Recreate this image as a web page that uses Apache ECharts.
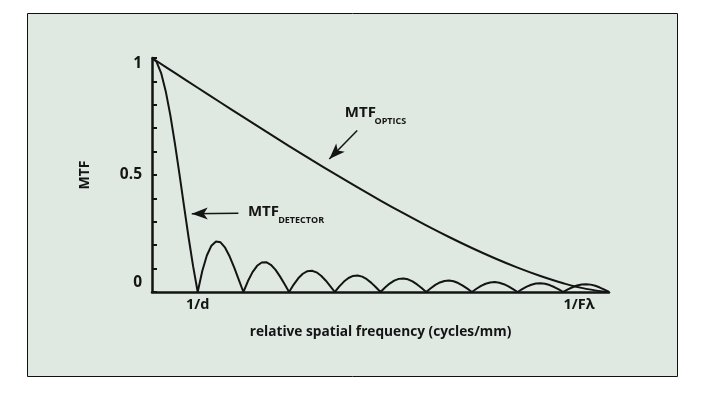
<!DOCTYPE html>
<html><head><meta charset="utf-8">
<script src="https://cdn.jsdelivr.net/npm/echarts@6/dist/echarts.min.js"></script>
<style>html,body{margin:0;padding:0;background:#fff}#c{width:707px;height:393px}</style>
</head><body><div id="c"></div>
<script>
// spatial frequency in units of 1/d (detector sampling step 0.1)
const detectorStep = 0.1;
const detectorMTF = [
  1, 0.9836, 0.9355, 0.8584, 0.7568, 0.6366, 0.5046, 0.3679, 0.2339, 0.1093, 0,
  0.0894, 0.1559, 0.1981, 0.2162, 0.2122, 0.1892, 0.1515, 0.1039, 0.0518, 0,
  0.0468, 0.0850, 0.1120, 0.1261, 0.1273, 0.1164, 0.0954, 0.0668, 0.0339, 0,
  0.0317, 0.0585, 0.0780, 0.0890, 0.0909, 0.0841, 0.0696, 0.0492, 0.0252, 0,
  0.0240, 0.0445, 0.0599, 0.0688, 0.0707, 0.0658, 0.0548, 0.0390, 0.0201, 0,
  0.0193, 0.0360, 0.0486, 0.0561, 0.0579, 0.0541, 0.0452, 0.0323, 0.0167, 0,
  0.0161, 0.0302, 0.0409, 0.0473, 0.0490, 0.0459, 0.0384, 0.0275, 0.0143, 0,
  0.0139, 0.0260, 0.0353, 0.0409, 0.0424, 0.0398, 0.0334, 0.0240, 0.0125, 0,
  0.0121, 0.0228, 0.0310, 0.0360, 0.0374, 0.0352, 0.0296, 0.0213, 0.0111, 0,
  0.0108, 0.0203, 0.0277, 0.0322, 0.0335, 0.0315, 0.0265, 0.0191, 0.0099, 0
];
const opticsStep = 0.5;
const opticsMTF = [
  1, 0.9364, 0.8729, 0.8097, 0.7471, 0.6850, 0.6238, 0.5636, 0.5046, 0.4470,
  0.3910, 0.3368, 0.2848, 0.2351, 0.1881, 0.1443, 0.1041, 0.0682, 0.0374, 0.0133, 0
];
const xTickLabels = [{ value: 1, text: '1/d' }, { value: 10, text: '1/F\u03bb' }];
const yTickLabels = [{ value: 0, text: '0' }, { value: 0.5, text: '0.5' }, { value: 1, text: '1' }];
const xAxisName = 'relative spatial frequency (cycles/mm)';
const yAxisName = 'MTF';
// annotation anchors in data coordinates
const detectorArrow = [[1.89, 0.337], [0.87, 0.334]];
const opticsArrow = [[4.49, 0.690], [3.88, 0.568]];
const detectorText = { pos: [2.1, 0.342], sub: [2.76, 0.306], main: 'MTF', subText: 'DETECTOR' };
const opticsText = { pos: [4.22, 0.764], sub: [4.87, 0.728], main: 'MTF', subText: 'OPTICS' };

const FONT = 'Open Sans';
const ink = '#141414';
const chart = echarts.init(document.getElementById('c'));

const detData = detectorMTF.map((v, i) => [+(i * detectorStep).toFixed(2), v]);
const optData = opticsMTF.map((v, i) => [+(i * opticsStep).toFixed(2), v]);

function findLabel(list, v) {
  for (const l of list) if (Math.abs(l.value - v) < 1e-6) return l.text;
  return '';
}

const arrowLine = (pts) => ({
  silent: true,
  symbol: ['none', 'arrow'],
  symbolSize: [9, 16],
  lineStyle: { color: ink, width: 1.5, type: 'solid' },
  label: { show: false },
  emphasis: { disabled: true },
  data: [[{ coord: pts[0] }, { coord: pts[1] }]]
});

const lab = { fontFamily: FONT, fontWeight: 'bold', fontSize: 14.5, color: ink };
const ylab = { fontFamily: FONT, fontWeight: 'bold', fontSize: 15.5, color: ink };

chart.setOption({
  animation: false,
  backgroundColor: '#ffffff',
  grid: { left: 152, right: 98, top: 58, bottom: 101, containLabel: false },
  xAxis: {
    type: 'value', min: 0, max: 10, interval: 1,
    name: xAxisName, nameLocation: 'middle', nameGap: 33,
    nameTextStyle: { fontFamily: FONT, fontWeight: 'bold', fontSize: 13.7, color: ink },
    axisLine: { show: true, onZero: false, lineStyle: { color: ink, width: 2.5 } },
    axisTick: { show: false },
    splitLine: { show: false },
    axisLabel: Object.assign({
      show: true, margin: 5, showMaxLabel: true, showMinLabel: true,
      formatter: (v) => {
        const t = findLabel(xTickLabels, v);
        if (!t) return '';
        return Math.abs(v - 10) < 1e-6 ? '{r|' + t + '}' : t;
      },
      rich: { r: Object.assign({}, lab, { padding: [0, 60, 0, 0] }) }
    }, lab)
  },
  yAxis: {
    type: 'value', min: 0, max: 1, interval: 0.1,
    name: yAxisName, nameLocation: 'middle', nameGap: 60,
    nameTextStyle: { fontFamily: FONT, fontWeight: 'bold', fontSize: 14, color: ink },
    axisLine: { show: true, onZero: false, lineStyle: { color: ink, width: 2.5 } },
    axisTick: { show: true, inside: true, length: 5, lineStyle: { color: ink, width: 2 } },
    splitLine: { show: false },
    axisLabel: Object.assign({
      show: true, margin: 10,
      formatter: (v) => {
        const t = findLabel(yTickLabels, v);
        if (!t) return '';
        if (Math.abs(v - 1) < 1e-6) return '{t|' + t + '}';
        if (Math.abs(v) < 1e-6) return '{b|' + t + '}';
        return t;
      },
      rich: {
        t: Object.assign({}, ylab, { padding: [12, 0, 0, 0] }),
        b: Object.assign({}, ylab, { padding: [0, 0, 18, 0] })
      }
    }, ylab)
  },
  series: [
    {
      name: 'MTF detector', type: 'line', data: detData, showSymbol: false, smooth: false,
      lineStyle: { color: ink, width: 2 }, z: 3, silent: true,
      markLine: arrowLine(detectorArrow)
    },
    {
      name: 'MTF optics', type: 'line', data: optData, showSymbol: false, smooth: 0.4,
      lineStyle: { color: ink, width: 2 }, z: 3, silent: true,
      markLine: arrowLine(opticsArrow)
    }
  ]
});

function px(p) { return chart.convertToPixel({ gridIndex: 0 }, p); }
function annot(a) {
  const p = px(a.pos), s = px(a.sub);
  return [
    { type: 'text', x: p[0], y: p[1], style: { text: a.main, fontFamily: FONT, fontWeight: 'bold', fontSize: 15, fill: ink, verticalAlign: 'middle', align: 'left' }, z: 10 },
    { type: 'text', x: s[0], y: s[1], style: { text: a.subText, fontFamily: FONT, fontWeight: 'bold', fontSize: 9, fill: ink, verticalAlign: 'middle', align: 'left' }, z: 10 }
  ];
}
chart.setOption({
  graphic: [
    { type: 'rect', shape: { x: 27.5, y: 13.5, width: 650, height: 363 }, style: { fill: '#dfe8e1', stroke: '#111', lineWidth: 1 }, z: -10, silent: true },
    ...annot(detectorText),
    ...annot(opticsText)
  ]
});
</script>
</body></html>
